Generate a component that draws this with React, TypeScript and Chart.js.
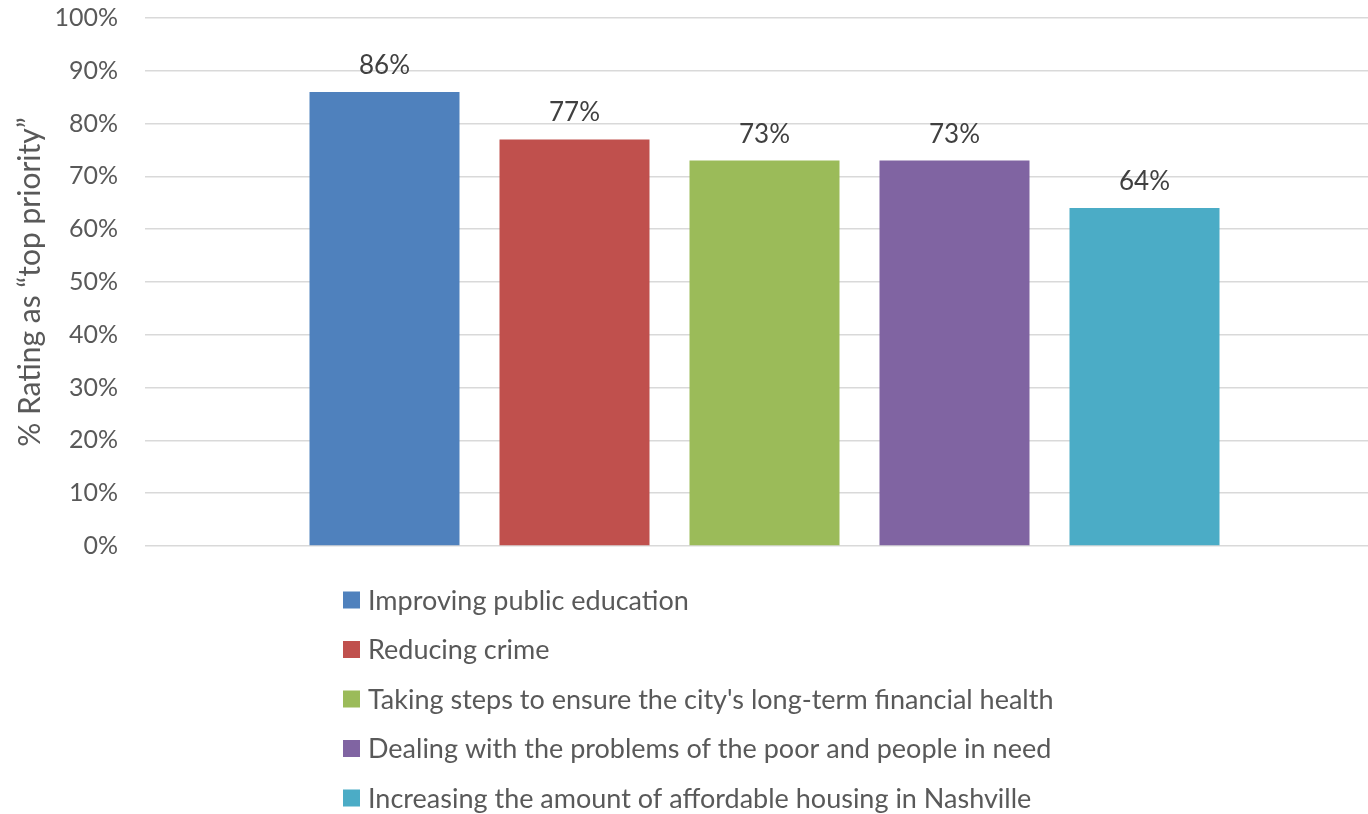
import React, { useEffect, useRef } from 'react';
import { Chart, registerables } from 'chart.js';

Chart.register(...registerables);

const categories = ['Priorities'];
const seriesNames = [
  'Improving public education',
  'Reducing crime',
  "Taking steps to ensure the city's long-term financial health",
  'Dealing with the problems of the poor and people in need',
  'Increasing the amount of affordable housing in Nashville',
];
const seriesValues = [86, 77, 73, 73, 64];
const seriesColors = ['#4F81BD', '#C0504D', '#9BBB59', '#8064A2', '#4BACC6'];
const yMin = 0;
const yMax = 100;
const yStep = 10;
const yTitle = '% Rating as \u201Ctop priority\u201D';

const FONT = 'Lato, "Open Sans", sans-serif';

const dataLabelPlugin = {
  id: 'dataLabels',
  afterDatasetsDraw(chart: any) {
    const ctx = chart.ctx;
    ctx.save();
    ctx.font = `26px ${FONT}`;
    ctx.fillStyle = '#404040';
    ctx.textAlign = 'center';
    ctx.textBaseline = 'alphabetic';
    chart.data.datasets.forEach((ds: any, i: number) => {
      const meta = chart.getDatasetMeta(i);
      meta.data.forEach((el: any, j: number) => {
        ctx.fillText(`${ds.data[j]}%`, el.x, el.y - 18);
      });
    });
    ctx.restore();
  },
};

const verticalLegendPlugin = {
  id: 'verticalLegend',
  afterDraw(chart: any) {
    const ctx = chart.ctx;
    const x0 = 343;
    const y0 = chart.chartArea.bottom + 54;
    const rowGap = 49.5;
    const box = 17;
    ctx.save();
    ctx.font = `27px ${FONT}`;
    ctx.textAlign = 'left';
    ctx.textBaseline = 'middle';
    chart.data.datasets.forEach((ds: any, i: number) => {
      const y = y0 + i * rowGap;
      ctx.fillStyle = ds.backgroundColor;
      ctx.fillRect(x0, y - box / 2, box, box);
      ctx.fillStyle = '#595959';
      ctx.fillText(ds.label, x0 + 25, y + 1);
    });
    ctx.restore();
  },
};

export default function App() {
  const canvasRef = useRef<HTMLCanvasElement | null>(null);

  useEffect(() => {
    document.body.style.margin = '0';
    const canvas = canvasRef.current;
    if (!canvas) return;
    const chart = new Chart(canvas, {
      type: 'bar',
      data: {
        labels: categories,
        datasets: seriesNames.map((name, i) => ({
          label: name,
          data: [seriesValues[i]],
          backgroundColor: seriesColors[i],
          borderWidth: 0,
          barPercentage: 150 / 190,
          categoryPercentage: 950 / 1239,
        })),
      },
      options: {
        responsive: false,
        animation: false,
        devicePixelRatio: 1,
        layout: { padding: { top: 18, bottom: 268, left: 0, right: 0 } },
        plugins: {
          legend: { display: false },
          tooltip: { enabled: false },
          title: { display: false },
        },
        scales: {
          x: { display: false },
          y: {
            min: yMin,
            max: yMax,
            ticks: {
              stepSize: yStep,
              callback: (v: any) => `${v}%`,
              color: '#595959',
              font: { family: FONT, size: 25 },
              padding: 2,
            },
            grid: {
              color: '#D9D9D9',
              lineWidth: 1.5,
              drawTicks: true,
              tickLength: 25,
              tickColor: 'rgba(0,0,0,0)',
            },
            border: { display: false },
            title: {
              display: true,
              text: yTitle,
              color: '#595959',
              font: { family: FONT, size: 30 },
              padding: { top: 12, bottom: 0 },
            },
            afterFit: (scale: any) => {
              scale.width = 145;
            },
          },
        },
      },
      plugins: [dataLabelPlugin, verticalLegendPlugin],
    });
    return () => chart.destroy();
  }, []);

  return (
    <div style={{ width: 1368, height: 814, overflow: 'hidden', background: '#fff' }}>
      <canvas ref={canvasRef} width={1384} height={814} style={{ display: 'block' }} />
    </div>
  );
}
